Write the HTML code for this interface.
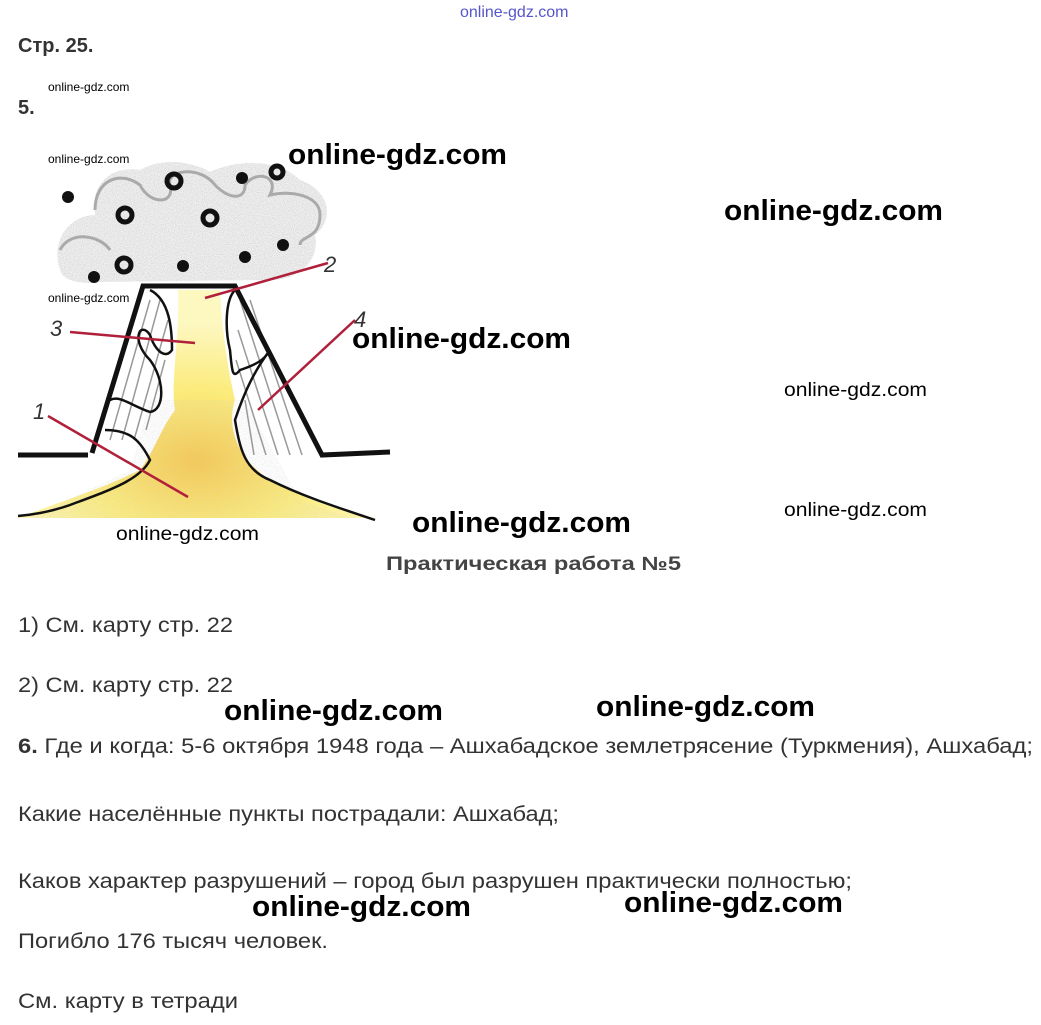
<!DOCTYPE html>
<html><head><meta charset="utf-8"><style>
html,body{margin:0;padding:0;background:#fff;}
svg{display:block;}
.wm{font-family:"Liberation Sans",sans-serif;font-weight:bold;font-size:29px;fill:#000;}
.ws{font-family:"Liberation Sans",sans-serif;font-size:12px;fill:#000;}
.wm2{font-family:"Liberation Sans",sans-serif;font-size:19px;fill:#000;}
.t{font-family:"Liberation Sans",sans-serif;font-size:21px;fill:#333;}
</style></head><body>
<svg width="1041" height="1025" viewBox="0 0 1041 1025" xmlns="http://www.w3.org/2000/svg">
<defs>
<filter id="grain" x="0" y="0" width="100%" height="100%">
<feTurbulence type="fractalNoise" baseFrequency="0.9" numOctaves="2" seed="3"/>
<feColorMatrix type="matrix" values="0 0 0 0 0.6  0 0 0 0 0.6  0 0 0 0 0.6  0 0 0 -2.2 1.4"/>
<feComposite in2="SourceGraphic" operator="in"/>
</filter>
<radialGradient id="lava" cx="50%" cy="75%" r="60%">
<stop offset="0" stop-color="#f6c850"/>
<stop offset="0.5" stop-color="#fbeb7a"/>
<stop offset="1" stop-color="#fdf7c0"/>
</radialGradient>
</defs>
<text x="460" y="17" font-family="Liberation Sans,sans-serif" font-size="16" fill="#5555cc">online-gdz.com</text>
<text x="18" y="52" font-family="Liberation Sans,sans-serif" font-size="20" font-weight="bold" fill="#333">Стр. 25.</text>
<text x="18" y="114" font-family="Liberation Sans,sans-serif" font-size="20" font-weight="bold" fill="#333">5.</text>

<!-- cloud -->
<path d="M60,270 C50,240 70,215 95,215 C90,185 110,165 140,170 C160,158 190,160 210,172 C240,158 280,160 300,180 C330,190 335,220 315,235 C320,260 300,280 270,280 L100,282 C80,285 62,280 60,270Z" fill="#e6e6e6" opacity="0.6"/>
<path d="M60,270 C50,240 70,215 95,215 C90,185 110,165 140,170 C160,158 190,160 210,172 C240,158 280,160 300,180 C330,190 335,220 315,235 C320,260 300,280 270,280 L100,282 C80,285 62,280 60,270Z" fill="#bbb" filter="url(#grain)" opacity="0.7"/>
<path d="M95,210 C95,180 120,170 140,185 C150,205 175,205 170,185 C165,170 200,165 215,185 C230,200 245,200 245,185 C255,170 280,175 270,195 C290,190 320,195 320,215 C320,240 300,235 300,245" fill="none" stroke="#aaa" stroke-width="3"/>
<path d="M60,250 C70,230 100,235 110,250" fill="none" stroke="#aaa" stroke-width="3"/>
<g fill="#111">
<circle cx="68" cy="197" r="6"/><circle cx="242" cy="178" r="6"/><circle cx="283" cy="245" r="6"/>
<circle cx="245" cy="257" r="6"/><circle cx="183" cy="266" r="6"/><circle cx="94" cy="277" r="6"/>
</g>
<g fill="none" stroke="#111" stroke-width="5">
<circle cx="125" cy="215" r="7"/><circle cx="174" cy="181" r="7"/><circle cx="210" cy="218" r="7"/>
<circle cx="277" cy="172" r="6"/><circle cx="124" cy="265" r="7"/>
</g>
<!-- lava -->
<path d="M178,290 L220,290 C222,330 228,370 235,400 C225,430 240,470 290,490 C320,505 350,512 375,518 L18,518 C50,505 100,490 140,470 C155,450 160,430 175,410 C170,380 180,340 178,290Z" fill="url(#lava)"/>
<path d="M150,400 L245,400 L300,500 L350,518 L30,518 L130,470Z" fill="#e04030" filter="url(#grain)" opacity="0.35"/>
<g stroke="#999" stroke-width="1.5">
<line x1="150" y1="300" x2="110" y2="440"/><line x1="160" y1="300" x2="122" y2="440"/>
<line x1="168" y1="320" x2="134" y2="440"/><line x1="165" y1="360" x2="146" y2="430"/>
<line x1="240" y1="300" x2="290" y2="455"/><line x1="238" y1="330" x2="278" y2="455"/>
<line x1="236" y1="360" x2="266" y2="455"/><line x1="245" y1="400" x2="254" y2="455"/>
<line x1="250" y1="300" x2="302" y2="455"/>
</g>
<g fill="none" stroke="#111" stroke-width="2.5">
<path d="M150,290 C170,300 172,330 172,350 C165,360 155,350 150,335 C140,320 130,340 150,360 C165,380 165,410 150,412 C130,405 120,395 110,400"/>
<path d="M105,430 C130,430 140,440 150,460 C140,480 110,490 70,505 C50,512 30,515 18,516"/>
<path d="M235,290 C225,300 225,330 230,350 C232,370 232,380 240,370 C255,365 265,360 270,350 C255,370 245,390 235,420 C240,450 245,470 270,480 C300,495 330,505 375,520"/>
</g>
<g fill="none" stroke="#111" stroke-width="5" stroke-linejoin="miter">
<polyline points="92,453 143,286 235,286 322,455 390,452"/>
<line x1="18" y1="455" x2="88" y2="455"/>
</g>
<g stroke="#b0203a" stroke-width="2.5">
<line x1="328" y1="263" x2="205" y2="298"/>
<line x1="70" y1="332" x2="195" y2="343"/>
<line x1="355" y1="320" x2="258" y2="410"/>
<line x1="48" y1="416" x2="188" y2="497"/>
</g>
<g font-family="Liberation Sans,sans-serif" font-size="22" font-style="italic" fill="#333">
<text x="324" y="272">2</text><text x="50" y="336">3</text><text x="354" y="327">4</text><text x="33" y="419">1</text>
</g>

<text class="ws" x="48" y="91">online-gdz.com</text>
<text class="ws" x="48" y="163">online-gdz.com</text>
<text class="ws" x="48" y="302">online-gdz.com</text>
<text class="wm" x="288" y="164" textLength="219" lengthAdjust="spacingAndGlyphs">online-gdz.com</text>
<text class="wm" x="724" y="220" textLength="219" lengthAdjust="spacingAndGlyphs">online-gdz.com</text>
<text class="wm" x="352" y="348" textLength="219" lengthAdjust="spacingAndGlyphs">online-gdz.com</text>
<text class="wm2" x="784" y="396" textLength="143" lengthAdjust="spacingAndGlyphs">online-gdz.com</text>
<text class="wm2" x="784" y="516" textLength="143" lengthAdjust="spacingAndGlyphs">online-gdz.com</text>
<text class="wm2" x="116" y="540" textLength="143" lengthAdjust="spacingAndGlyphs">online-gdz.com</text>
<text class="wm" x="412" y="532" textLength="219" lengthAdjust="spacingAndGlyphs">online-gdz.com</text>
<text class="wm" x="224" y="720" textLength="219" lengthAdjust="spacingAndGlyphs">online-gdz.com</text>
<text class="wm" x="596" y="716" textLength="219" lengthAdjust="spacingAndGlyphs">online-gdz.com</text>
<text class="wm" x="252" y="916" textLength="219" lengthAdjust="spacingAndGlyphs">online-gdz.com</text>
<text class="wm" x="624" y="912" textLength="219" lengthAdjust="spacingAndGlyphs">online-gdz.com</text>

<text x="386" y="570" font-family="Liberation Sans,sans-serif" font-size="19" font-weight="bold" fill="#444" textLength="295" lengthAdjust="spacingAndGlyphs">Практическая работа №5</text>

<text class="t" x="18" y="632" textLength="215" lengthAdjust="spacingAndGlyphs">1) См. карту стр. 22</text>
<text class="t" x="18" y="692" textLength="215" lengthAdjust="spacingAndGlyphs">2) См. карту стр. 22</text>
<text class="t" x="18" y="753" textLength="1015" lengthAdjust="spacingAndGlyphs"><tspan font-weight="bold">6.</tspan> Где и когда: 5-6 октября 1948 года – Ашхабадское землетрясение (Туркмения), Ашхабад;</text>
<text class="t" x="18" y="821" textLength="541" lengthAdjust="spacingAndGlyphs">Какие населённые пункты пострадали: Ашхабад;</text>
<text class="t" x="18" y="888" textLength="834" lengthAdjust="spacingAndGlyphs">Каков характер разрушений – город был разрушен практически полностью;</text>
<text class="t" x="18" y="948" textLength="310" lengthAdjust="spacingAndGlyphs">Погибло 176 тысяч человек.</text>
<text class="t" x="18" y="1008" textLength="220" lengthAdjust="spacingAndGlyphs">См. карту в тетради</text>
</svg>
</body></html>
